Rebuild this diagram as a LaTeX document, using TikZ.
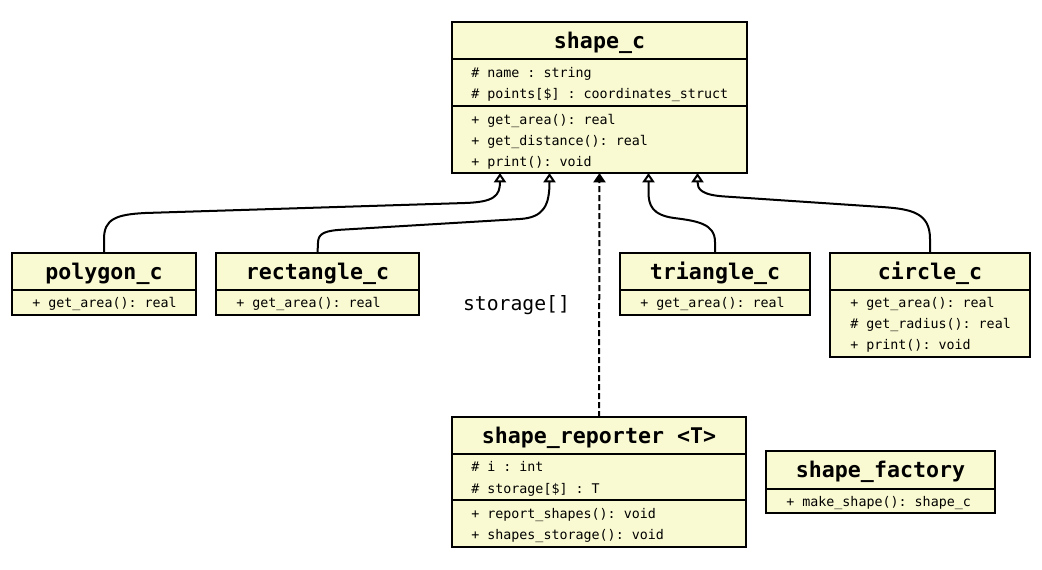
\documentclass[tikz,border=0pt]{standalone}
\usepackage{fontspec}
\setmonofont{DejaVu Sans Mono}
\usetikzlibrary{arrows.meta,calc}
\definecolor{classfill}{RGB}{250,250,210}
\newcommand\classbox[5]{\node[cls, minimum width={(#4-#2)*0.75pt}, minimum height={(#5-#3)*0.75pt}] (#1) at ({(#2+#4)/2},{(#3+#5)/2}) {};}
\newcommand\divline[2]{\draw[divl] (#1.west |- 0,#2) -- (#1.east |- 0,#2);}
\begin{document}
\begin{tikzpicture}[x=0.75pt,y=-0.75pt,
  cls/.style={draw=black, fill=classfill, line width=1.5pt, inner sep=0pt, outer sep=0pt, rectangle},
  divl/.style={line width=1.5pt},
  ctitle/.style={font=\ttfamily\bfseries\fontsize{16.2}{19}\selectfont, inner sep=0pt, text height=12pt, text depth=3.5pt, anchor=center, yshift=-1.5pt},
  mem/.style={font=\ttfamily\fontsize{10}{12}\selectfont, inner sep=0pt, text height=7.5pt, text depth=2pt, anchor=west, yshift=-1.3pt},
  lbl/.style={font=\ttfamily\fontsize{14.8}{17}\selectfont, inner sep=0pt, text height=10.5pt, text depth=3pt, anchor=center},
  inh/.style={line width=1.5pt, -{Triangle[open,length=7pt,width=9pt]}},
  dep/.style={line width=1.5pt, dash pattern=on 4.5pt off 2.25pt, -{Triangle[length=7pt,width=9pt]}}]
\fill[white] (0,0) rectangle (1042,569);
\useasboundingbox (0,0) rectangle (1042,569);

% shape_c
\classbox{shape}{452}{22}{747}{173}
\divline{shape}{59}
\divline{shape}{106}
\node[ctitle] (shape-t) at (599.5,40.5) {shape\_c};
\node[mem] (shape-a1) at (471,72) {\# name : string};
\node[mem] (shape-a2) at (471,93) {\# points[\$] : coordinates\_struct};
\node[mem] (shape-m1) at (471,119) {+ get\_area(): real};
\node[mem] (shape-m2) at (471,140) {+ get\_distance(): real};
\node[mem] (shape-m3) at (471,161) {+ print(): void};

% polygon_c
\classbox{poly}{12}{253}{196}{315}
\divline{poly}{290}
\node[ctitle] (poly-t) at (104,271.5) {polygon\_c};
\node[mem] (poly-m1) at (32,302) {+ get\_area(): real};

% rectangle_c
\classbox{rect}{216}{253}{419}{315}
\divline{rect}{290}
\node[ctitle] (rect-t) at (317.5,271.5) {rectangle\_c};
\node[mem] (rect-m1) at (236,302) {+ get\_area(): real};

% triangle_c
\classbox{tri}{620}{253}{810}{315}
\divline{tri}{290}
\node[ctitle] (tri-t) at (715,271.5) {triangle\_c};
\node[mem] (tri-m1) at (640,302) {+ get\_area(): real};

% circle_c
\classbox{circ}{830}{253}{1030}{357}
\divline{circ}{290}
\node[ctitle] (circ-t) at (930,271.5) {circle\_c};
\node[mem] (circ-m1) at (850,302) {+ get\_area(): real};
\node[mem] (circ-m2) at (850,323) {\# get\_radius(): real};
\node[mem] (circ-m3) at (850,344) {+ print(): void};

% shape_reporter
\classbox{rep}{452}{417}{746}{547}
\divline{rep}{454}
\divline{rep}{500}
\node[ctitle] (rep-t) at (599,435.5) {shape\_reporter <T>};
\node[mem] (rep-a1) at (471,466) {\# i : int};
\node[mem] (rep-a2) at (471,488) {\# storage[\$] : T};
\node[mem] (rep-m1) at (471,513) {+ report\_shapes(): void};
\node[mem] (rep-m2) at (471,534) {+ shapes\_storage(): void};

% shape_factory
\classbox{fact}{766}{451}{995}{513}
\divline{fact}{489}
\node[ctitle] (fact-t) at (880.5,470) {shape\_factory};
\node[mem] (fact-m1) at (786,501) {+ make\_shape(): shape\_c};

% label
\node[lbl] (storlbl) at (516.5,305.5) {storage[]};

% attachment points on shape_c
\coordinate (p1) at ($(shape.south)+(-99.5,0)$);
\coordinate (p2) at ($(shape.south)+(-50,0)$);
\coordinate (p3) at ($(shape.south)+(0,0)$);
\coordinate (p4) at ($(shape.south)+(49,0)$);
\coordinate (p5) at ($(shape.south)+(98,0)$);

% connectors
\draw[inh] (poly.north) -- (104,239) .. controls (104,219) and (116,214.5) .. (145,213) -- (465,203) .. controls (494,202) and (500,196) .. (p1);
\draw[inh] (rect.north) -- (318,243) .. controls (318,233) and (325,230.5) .. (345,229.5) -- (520,219) .. controls (544,217.5) and (549.5,205) .. (p2);
\draw[inh] (tri.north) -- (715,242) .. controls (715,224) and (698,221) .. (674,218) .. controls (652,215) and (648.5,205) .. (648.5,192) -- (p4);
\draw[inh] (circ.north) -- (930,239) .. controls (930,213) and (912,209) .. (882,207) -- (725,196.5) .. controls (701,195) and (697.5,189) .. (p5);
\draw[dep] (rep.north) -- (p3);
\end{tikzpicture}
\end{document}
